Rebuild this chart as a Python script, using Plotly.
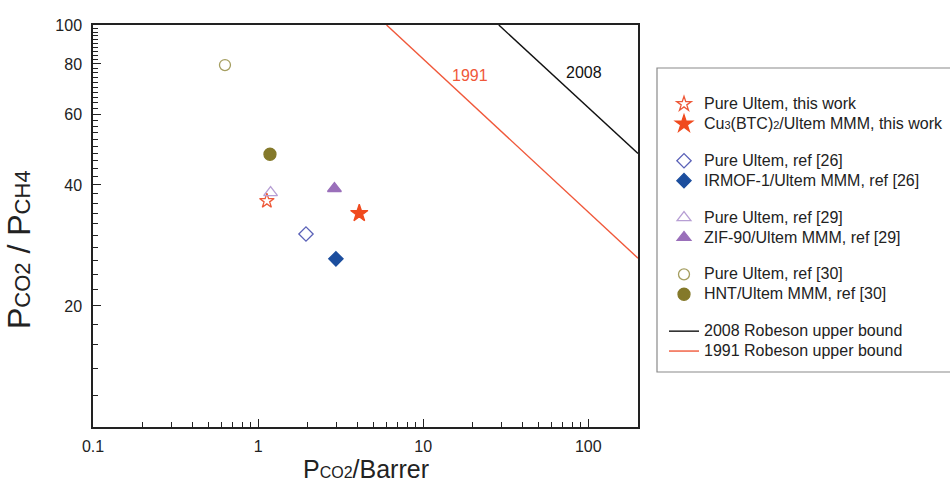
import numpy as np
import plotly.graph_objects as go

# ---------------- data ----------------
def small(t, s=11):
    return f"<span style='font-size:{s}px'>{t}</span>"

point_names = [
    "Pure Ultem, this work",
    "Cu" + small("3") + "(BTC)" + small("2") + "/Ultem MMM, this work",
    "Pure Ultem, ref [26]",
    "IRMOF-1/Ultem MMM, ref [26]",
    "Pure Ultem, ref [29]",
    "ZIF-90/Ultem MMM, ref [29]",
    "Pure Ultem, ref [30]",
    "HNT/Ultem MMM, ref [30]",
]
p_co2 = [1.13, 4.1, 1.95, 2.96, 1.19, 2.9, 0.63, 1.18]
selectivity = [36.5, 34.0, 30.2, 26.2, 38.3, 39.2, 79.5, 47.7]
groups = ["g1", "g1", "g2", "g2", "g3", "g3", "g4", "g4"]

rob_names = ["2008 Robeson upper bound", "1991 Robeson upper bound"]
rob_labels = ["2008", "1991"]
rob2008_x = [28.7, 200]
rob2008_y = [100, 47.9]
rob1991_x = [6.0, 200]
rob1991_y = [100, 26.3]
rob_label_pos = [(94.6, 76.4), (19.3, 74.7)]

x_tick_vals = [0.1, 1, 10, 100]
x_tick_text = ["0.1", "1", "10", "100"]
y_tick_vals = [20, 40, 60, 80, 100]
y_tick_text = ["20", "40", "60", "80", "100"]

# ---------------- styles ----------------
symbols = ["star-open", "star", "diamond-open", "diamond",
           "triangle-up-open", "triangle-up", "circle-open", "circle"]
colors = ["#ee5a3a", "#f04a1e", "#5b62b8", "#1c4e9e",
          "#b79fd4", "#9a6fba", "#a59e60", "#84792a"]
sizes = [11, 13, 11, 11, 12, 12, 11, 12]
rob_colors = ["#111111", "#f0583a"]

FONT = "Liberation Sans, Arial, Helvetica, sans-serif"

def leg(t):
    return f"<span style='font-size:16px'>{t}</span>"

fig = go.Figure()
for i in range(len(p_co2)):
    fig.add_trace(go.Scatter(
        x=[p_co2[i]], y=[selectivity[i]], mode="markers", name=leg(point_names[i]),
        legendgroup=groups[i],
        marker=dict(symbol=symbols[i], color=colors[i], size=sizes[i],
                    line=dict(width=1.3, color=colors[i])),
        cliponaxis=False, showlegend=True,
    ))

for nm, xs, ys, c in zip(rob_names, [rob2008_x, rob1991_x], [rob2008_y, rob1991_y], rob_colors):
    fig.add_trace(go.Scatter(x=xs, y=ys, mode="lines", name=leg(nm), legendgroup="g5",
                             line=dict(color=c, width=1.4)))

for lab, (lx, ly), c in zip(rob_labels, rob_label_pos, rob_colors):
    fig.add_annotation(x=np.log10(lx), y=np.log10(ly), xref="x", yref="y", text=lab,
                       showarrow=False, font=dict(size=16, color=c, family=FONT))

# minor tick values
x_minor = [m * d for d in [0.1, 1, 10, 100] for m in range(2, 10) if m * d <= 200]
y_minor = [v for v in range(12, 100, 2) if v % 20 != 0]

W, H = 950, 490
L, R, T, B = 93, 312, 25, 63
pw, ph = W - L - R, H - T - B

def px_to_paper(px, py):
    return (px - L) / pw, (H - B - py) / ph

axis_common = dict(type="log", showline=True, linecolor="#222222", linewidth=1.5,
                   mirror=True, ticks="inside", ticklen=8, tickwidth=1.3,
                   tickcolor="#222222", showgrid=False, zeroline=False,
                   tickfont=dict(size=16, color="#222222", family=FONT))

fig.update_xaxes(**axis_common, range=[np.log10(0.1), np.log10(200)],
                 tickmode="array", tickvals=x_tick_vals, ticktext=x_tick_text,
                 ticklabelstandoff=4,
                 minor=dict(tickmode="array", tickvals=x_minor, ticks="inside",
                            ticklen=5, tickwidth=1.2, tickcolor="#222222"))
fig.update_yaxes(**axis_common, range=[1, 2],
                 tickmode="array", tickvals=y_tick_vals, ticktext=y_tick_text,
                 ticklabelstandoff=6,
                 minor=dict(tickmode="array", tickvals=y_minor, ticks="inside",
                            ticklen=5, tickwidth=1.2, tickcolor="#222222"))

# axis titles
xt = px_to_paper(365, 469)
fig.add_annotation(x=0.5, y=xt[1], xref="paper", yref="paper", showarrow=False,
                   xanchor="center", yanchor="middle",
                   text="P" + small("CO2", 16) + "/Barrer",
                   font=dict(size=25, color="#222222", family=FONT))
yt = px_to_paper(19, 250)
fig.add_annotation(x=yt[0], y=yt[1], xref="paper", yref="paper", showarrow=False,
                   xanchor="center", yanchor="middle", textangle=-90,
                   text="P" + small("CO2", 22) + " / P" + small("CH4", 22),
                   font=dict(size=32, color="#222222", family=FONT))

# legend box
bx0, by0 = px_to_paper(657, 372)
bx1, by1 = px_to_paper(970, 68)
fig.add_shape(type="rect", xref="paper", yref="paper", x0=bx0, y0=by0, x1=bx1, y1=by1,
              line=dict(color="#8a8a8a", width=1.2), fillcolor="rgba(0,0,0,0)")

lx, ly = px_to_paper(664, 89)
fig.update_layout(
    width=W, height=H,
    margin=dict(l=L, r=R, t=T, b=B, autoexpand=False),
    plot_bgcolor="white", paper_bgcolor="white",
    font=dict(family=FONT, color="#222222"),
    legend=dict(x=lx, y=ly, xanchor="left", yanchor="top", traceorder="grouped",
                tracegroupgap=17, bgcolor="rgba(0,0,0,0)", borderwidth=0,
                font=dict(size=13, color="#222222", family=FONT),
                itemsizing="trace"),
)

fig.write_html("out.html")
